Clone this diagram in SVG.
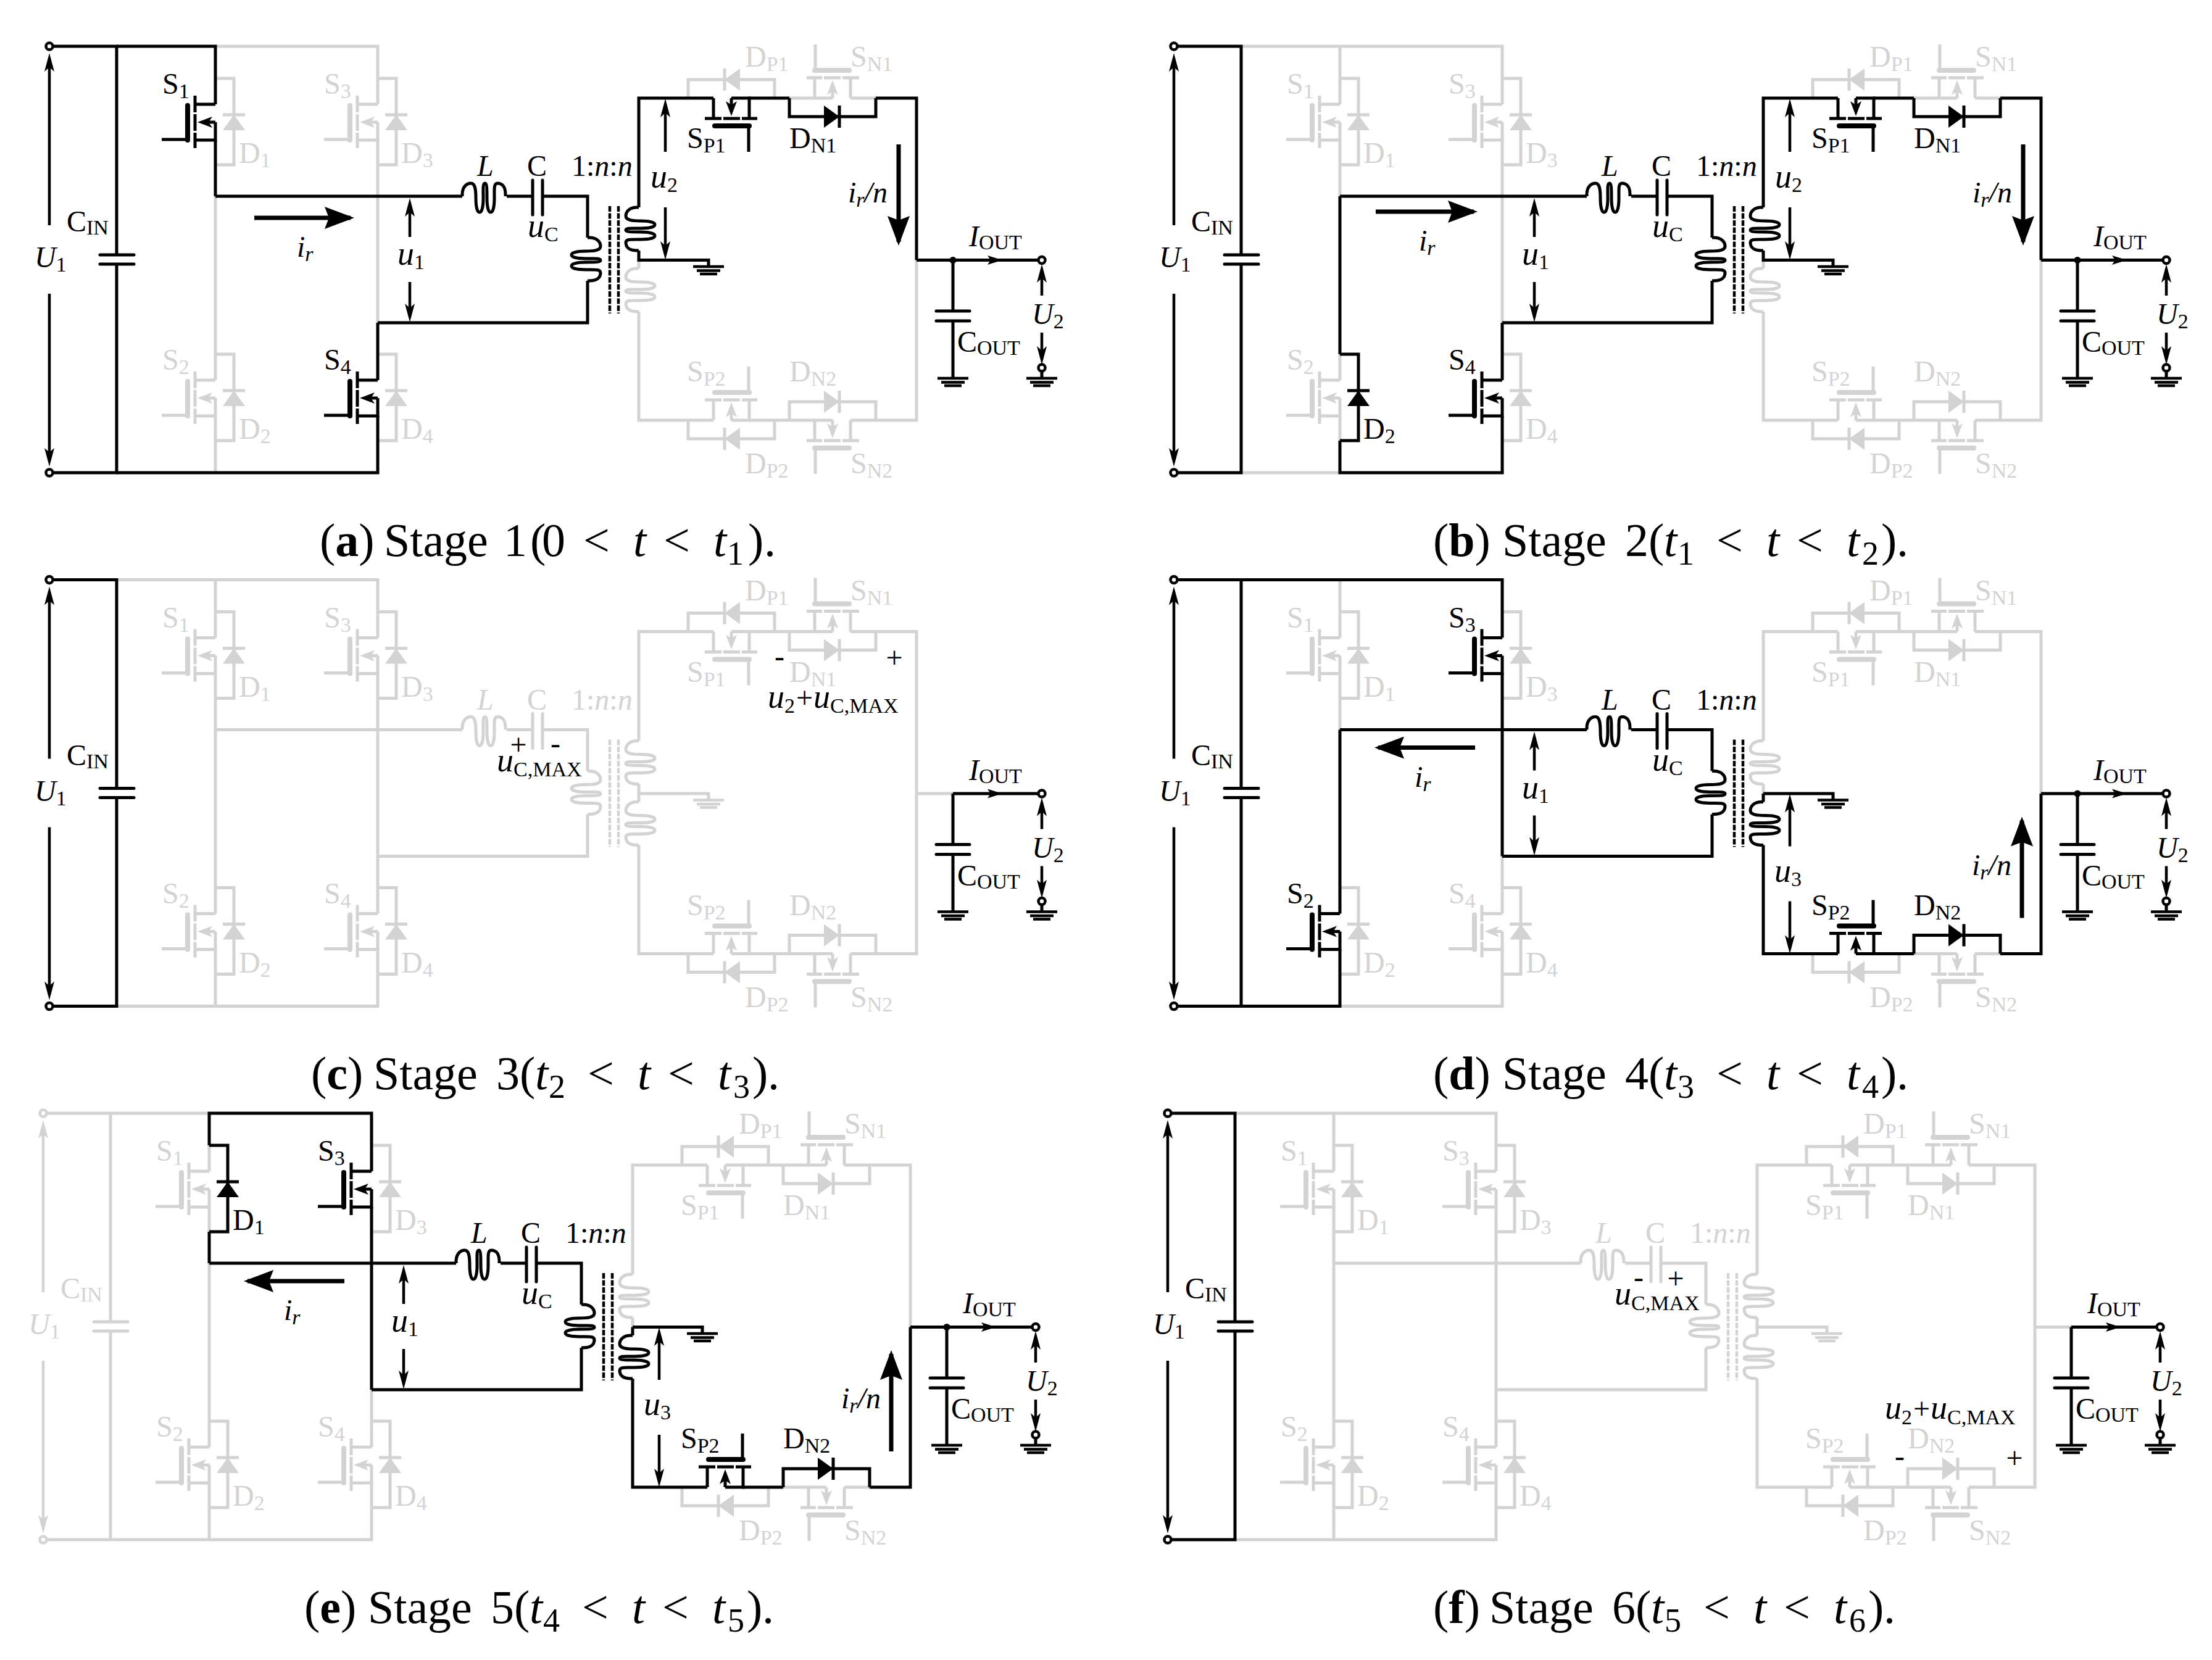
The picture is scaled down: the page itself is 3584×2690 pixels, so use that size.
<svg xmlns="http://www.w3.org/2000/svg" width="3584" height="2690" viewBox="0 0 3584 2690">
<style>
.k{color:#000}.g{color:#d3d3d3}
.w{fill:none;stroke:currentColor;stroke-width:5}
.r{stroke-linecap:round}
.f{fill:currentColor;stroke:none}
.o{fill:#fff;stroke:currentColor;stroke-width:4.5}
.t{font-family:"Liberation Serif",serif;font-size:48px;fill:currentColor}
.i{font-style:italic}
.u{font-style:italic;font-size:54px}
.s{font-size:34px}
.c{font-family:"Liberation Serif",serif;font-size:76px;fill:#000}
.b{font-weight:bold}
.ss{font-size:54px}
.v{fill:none;stroke:#000;stroke-width:4.5;marker-end:url(#vk)}
.vg{fill:none;stroke:#d3d3d3;stroke-width:4.5;marker-end:url(#vg)}
.big{fill:none;stroke:#000;stroke-width:7;marker-end:url(#bk)}
</style>
<defs>
<marker id="vk" markerUnits="userSpaceOnUse" markerWidth="32" markerHeight="18" refX="20" refY="9" orient="auto"><path d="M30 9L0 1L7 9L0 17Z" fill="#000"/></marker>
<marker id="vg" markerUnits="userSpaceOnUse" markerWidth="32" markerHeight="18" refX="20" refY="9" orient="auto"><path d="M30 9L0 1L7 9L0 17Z" fill="#d3d3d3"/></marker>
<marker id="bk" markerUnits="userSpaceOnUse" markerWidth="50" markerHeight="36" refX="42" refY="18" orient="auto"><path d="M48 18L0 0L7 18L0 36Z" fill="#000"/></marker>
<g id="mos"><path class="w" d="M0 0H-33M-33 -14V13M-33 16V43M-33 46V71M0 29V58H-33M-87 57H-45M0 29H-14"/><path class="w r" style="stroke-width:8" d="M-45 2V58"/><path class="f" d="M-29 29L-5 20L-11 29L-5 38Z"/></g>
<g id="dio"><path class="w" d="M0 -42H30V98H0M12 17H48"/><path class="f" d="M30 17L12 42H48Z"/></g>
<path id="coil" class="w" d="M0 0H-3C-15 0 -21 7 -21 14C-21 21 -10 22 3 22C16 22 26 24 26 28C26 32 16 34 3 34C-12 34 -21 33 -21 37C-21 40 -10 40 3 40C16 40 26 42 26 46C26 50 16 52 3 52C-12 52 -21 51 -21 57C-21 65 -15 70 -3 70H0"/>
<g id="gnd"><path class="w" style="stroke-width:4.5" d="M-25 0H25M-19 6.500H19M-14 12H14"/></g>
<g id="sp1" transform="translate(1156,159) rotate(-90)"><use href="#mos"/></g>
<g id="sn1" transform="translate(1378,159) rotate(90)"><use href="#mos"/></g>
<g id="sp2" transform="matrix(0 1 1 0 1156 681)"><use href="#mos"/></g>
<g id="sn2" transform="matrix(0 -1 -1 0 1378 681)"><use href="#mos"/></g>
<g id="dp1" transform="translate(1157,159) rotate(-90)"><use href="#dio"/></g>
<g id="dn1" transform="translate(1377,159) rotate(90)"><use href="#dio"/></g>
<g id="dp2" transform="matrix(0 1 1 0 1157 681)"><use href="#dio"/></g>
<g id="dn2" transform="matrix(0 -1 -1 0 1377 681)"><use href="#dio"/></g>
<g id="prim"><path class="w" d="M349 318H749M821 318H863M879 318H952V385M952 455V523H612"/><path class="w r" d="M863 292V348M879 292V348"/><use href="#coil" transform="matrix(0 1 1 0 749 318)" /><use href="#coil" transform="translate(952,385) scale(-1,1)"/><path class="w" style="stroke-width:4.5;stroke-dasharray:9 2.500" d="M988 334V508M1002 334V508"/></g>
<g id="cin"><path class="w" d="M80 75H189V413M80 766H189V428"/><path class="w r" d="M162 413H217M162 428H217"/><circle class="o" cx="80" cy="75" r="5.500"/><circle class="o" cx="80" cy="766" r="5.500"/></g>
<g id="out"><path class="w" d="M1544 421.500H1682M1544 421.500V504M1544 520V613M1688 602V613"/><path class="w r" d="M1517 504H1571M1517 520H1571"/><use href="#gnd" x="1544" y="613"/><use href="#gnd" x="1688" y="613"/><circle class="o" cx="1688" cy="421.500" r="5.500"/><circle class="o" cx="1688" cy="596" r="5.500"/><path class="f" d="M1624 421.500L1600 414L1605 421.500L1600 429Z"/></g>
<path id="su" class="w" d="M1035 336V159H1156M1213 159H1279M1419 159H1485V421.500M1035 406V421.500H1148V432"/>
<path id="sug" class="w" d="M1279 159H1320M1378 159H1419M1035 421.500V435M1035 505V681H1156M1213 681H1320M1378 681H1485V421.500"/>
<path id="sl" class="w" d="M1035 421.500V435M1035 505V681H1156M1213 681H1279M1419 681H1485V421.500M1035 421.500H1148V432"/>
<path id="slg" class="w" d="M1035 336V159H1156M1213 159H1320M1378 159H1485V421.500M1035 406V421.500M1279 681H1320M1378 681H1419"/>
</defs>

<g id="panel-a">
<g id="a-S2" class="g"><use href="#mos" x="349" y="616"/><text class="t" x="263" y="599">S<tspan class="s" dy="7">2</tspan></text></g>
<g id="a-S3" class="g"><use href="#mos" x="612" y="169"/><text class="t" x="525" y="152">S<tspan class="s" dy="7">3</tspan></text></g>
<g id="a-D1" class="g"><use href="#dio" x="349" y="169"/><text class="t" x="387" y="264">D<tspan class="s" dy="7">1</tspan></text></g>
<g id="a-D2" class="g"><use href="#dio" x="349" y="616"/><text class="t" x="387" y="711">D<tspan class="s" dy="7">2</tspan></text></g>
<g id="a-D3" class="g"><use href="#dio" x="612" y="169"/><text class="t" x="650" y="264">D<tspan class="s" dy="7">3</tspan></text></g>
<g id="a-D4" class="g"><use href="#dio" x="612" y="616"/><text class="t" x="650" y="711">D<tspan class="s" dy="7">4</tspan></text></g>
<g id="a-DP1" class="g"><use href="#dp1"/><text class="t" x="1207" y="108">D<tspan class="s" dy="7">P1</tspan></text></g>
<g id="a-SN1" class="g"><use href="#sn1"/><text class="t" x="1378" y="108">S<tspan class="s" dy="7">N1</tspan></text></g>
<g id="a-SP2" class="g"><use href="#sp2"/><text class="t" x="1113" y="618">S<tspan class="s" dy="7">P2</tspan></text></g>
<g id="a-DN2" class="g"><use href="#dn2"/><text class="t" x="1279" y="618">D<tspan class="s" dy="7">N2</tspan></text></g>
<g id="a-DP2" class="g"><use href="#dp2"/><text class="t" x="1207" y="767">D<tspan class="s" dy="7">P2</tspan></text></g>
<g id="a-SN2" class="g"><use href="#sn2"/><text class="t" x="1378" y="767">S<tspan class="s" dy="7">N2</tspan></text></g>
<g id="a-Tl" class="g"><use href="#coil" x="1035" y="435"/></g>
<g id="a-wires">
<g class="g"><path class="w" d="M349 75H612V169M612 227V523M349 318V616M349 674V766"/><use href="#sug"/></g>
<g class="k"><path class="w" d="M189 75H349V169M349 227V318M612 523V616M612 674V766H189"/><use href="#su"/></g>
</g>
<g id="a-S1" class="k"><use href="#mos" x="349" y="169"/><text class="t" x="263" y="152">S<tspan class="s" dy="7">1</tspan></text></g>
<g id="a-S4" class="k"><use href="#mos" x="612" y="616"/><text class="t" x="525" y="599">S<tspan class="s" dy="7">4</tspan></text></g>
<g id="a-in" class="k"><use href="#cin"/><path class="v" d="M80 365V96"/><path class="v" d="M80 476V746"/><text class="t" x="56" y="433"><tspan class="i">U</tspan><tspan class="s" dy="7">1</tspan></text><text class="t" x="108" y="375">C<tspan class="s" dy="5">IN</tspan></text></g>
<g id="a-prim" class="k"><use href="#prim"/><text class="t i" x="773" y="285">L</text><text class="t" x="854" y="285">C</text><text class="t" x="855" y="384"><tspan class="u">u</tspan><tspan class="s" dy="7">C</tspan></text><text class="t" x="926" y="285">1:<tspan class="i">n</tspan>:<tspan class="i">n</tspan></text></g>
<g id="a-ir" class="k"><path class="big" d="M412 353H568"/><text class="t i" x="481" y="416">i<tspan class="s" dy="7">r</tspan></text></g>
<g id="a-u1" class="k"><path class="v" d="M664 384V331"/><path class="v" d="M664 457V512"/><text class="t" x="644" y="429"><tspan class="u">u</tspan><tspan class="s" dy="7">1</tspan></text></g>
<g id="a-Tu" class="k"><use href="#coil" x="1035" y="336"/><use href="#gnd" x="1148" y="432"/><path class="v" d="M1078 246V170"/><path class="v" d="M1078 336V411"/><text class="t" x="1054" y="304"><tspan class="u">u</tspan><tspan class="s" dy="7">2</tspan></text></g>
<g id="a-SP1" class="k"><use href="#sp1"/><text class="t" x="1113" y="240">S<tspan class="s" dy="7">P1</tspan></text></g>
<g id="a-DN1" class="k"><use href="#dn1"/><text class="t" x="1279" y="240">D<tspan class="s" dy="7">N1</tspan></text></g>
<g id="a-io" class="k"><path class="big" d="M1456 234V392"/><text class="t i" x="1374" y="328">i<tspan class="s" dy="7">r</tspan><tspan dy="-7">/n</tspan></text></g>
<g id="a-out" class="k"><path class="w" d="M1485 421.500H1544"/><circle class="f" cx="1544" cy="421.500" r="5.500"/><use href="#out"/><path class="v" d="M1688 479V438"/><path class="v" d="M1688 539V581"/><text class="t" x="1570" y="399"><tspan class="i">I</tspan><tspan class="s" dy="5">OUT</tspan></text><text class="t" x="1551" y="570">C<tspan class="s" dy="5">OUT</tspan></text><text class="t" x="1672" y="525"><tspan class="i">U</tspan><tspan class="s" dy="7">2</tspan></text></g>
</g>

<g id="panel-b" transform="translate(1822,0)">
<g id="b-S1" class="g"><use href="#mos" x="349" y="169"/><text class="t" x="263" y="152">S<tspan class="s" dy="7">1</tspan></text></g>
<g id="b-S2" class="g"><use href="#mos" x="349" y="616"/><text class="t" x="263" y="599">S<tspan class="s" dy="7">2</tspan></text></g>
<g id="b-S3" class="g"><use href="#mos" x="612" y="169"/><text class="t" x="525" y="152">S<tspan class="s" dy="7">3</tspan></text></g>
<g id="b-D1" class="g"><use href="#dio" x="349" y="169"/><text class="t" x="387" y="264">D<tspan class="s" dy="7">1</tspan></text></g>
<g id="b-D3" class="g"><use href="#dio" x="612" y="169"/><text class="t" x="650" y="264">D<tspan class="s" dy="7">3</tspan></text></g>
<g id="b-D4" class="g"><use href="#dio" x="612" y="616"/><text class="t" x="650" y="711">D<tspan class="s" dy="7">4</tspan></text></g>
<g id="b-DP1" class="g"><use href="#dp1"/><text class="t" x="1207" y="108">D<tspan class="s" dy="7">P1</tspan></text></g>
<g id="b-SN1" class="g"><use href="#sn1"/><text class="t" x="1378" y="108">S<tspan class="s" dy="7">N1</tspan></text></g>
<g id="b-SP2" class="g"><use href="#sp2"/><text class="t" x="1113" y="618">S<tspan class="s" dy="7">P2</tspan></text></g>
<g id="b-DN2" class="g"><use href="#dn2"/><text class="t" x="1279" y="618">D<tspan class="s" dy="7">N2</tspan></text></g>
<g id="b-DP2" class="g"><use href="#dp2"/><text class="t" x="1207" y="767">D<tspan class="s" dy="7">P2</tspan></text></g>
<g id="b-SN2" class="g"><use href="#sn2"/><text class="t" x="1378" y="767">S<tspan class="s" dy="7">N2</tspan></text></g>
<g id="b-Tl" class="g"><use href="#coil" x="1035" y="435"/></g>
<g id="b-wires">
<g class="g"><path class="w" d="M189 75H612V169M349 75V169M349 227V318M612 227V523M189 766H349M349 574V616M349 674V714"/><use href="#sug"/></g>
<g class="k"><path class="w" d="M349 318V574M349 714V766H612V674M612 616V523"/><use href="#su"/></g>
</g>
<g id="b-D2" class="k"><use href="#dio" x="349" y="616"/><text class="t" x="387" y="711">D<tspan class="s" dy="7">2</tspan></text></g>
<g id="b-S4" class="k"><use href="#mos" x="612" y="616"/><text class="t" x="525" y="599">S<tspan class="s" dy="7">4</tspan></text></g>
<g id="b-in" class="k"><use href="#cin"/><path class="v" d="M80 365V96"/><path class="v" d="M80 476V746"/><text class="t" x="56" y="433"><tspan class="i">U</tspan><tspan class="s" dy="7">1</tspan></text><text class="t" x="108" y="375">C<tspan class="s" dy="5">IN</tspan></text></g>
<g id="b-prim" class="k"><use href="#prim"/><text class="t i" x="773" y="285">L</text><text class="t" x="854" y="285">C</text><text class="t" x="855" y="384"><tspan class="u">u</tspan><tspan class="s" dy="7">C</tspan></text><text class="t" x="926" y="285">1:<tspan class="i">n</tspan>:<tspan class="i">n</tspan></text></g>
<g id="b-ir" class="k"><path class="big" d="M407 343H566"/><text class="t i" x="477" y="406">i<tspan class="s" dy="7">r</tspan></text></g>
<g id="b-u1" class="k"><path class="v" d="M664 384V331"/><path class="v" d="M664 457V512"/><text class="t" x="644" y="429"><tspan class="u">u</tspan><tspan class="s" dy="7">1</tspan></text></g>
<g id="b-Tu" class="k"><use href="#coil" x="1035" y="336"/><use href="#gnd" x="1148" y="432"/><path class="v" d="M1078 246V170"/><path class="v" d="M1078 336V411"/><text class="t" x="1054" y="304"><tspan class="u">u</tspan><tspan class="s" dy="7">2</tspan></text></g>
<g id="b-SP1" class="k"><use href="#sp1"/><text class="t" x="1113" y="240">S<tspan class="s" dy="7">P1</tspan></text></g>
<g id="b-DN1" class="k"><use href="#dn1"/><text class="t" x="1279" y="240">D<tspan class="s" dy="7">N1</tspan></text></g>
<g id="b-io" class="k"><path class="big" d="M1456 234V392"/><text class="t i" x="1374" y="328">i<tspan class="s" dy="7">r</tspan><tspan dy="-7">/n</tspan></text></g>
<g id="b-out" class="k"><path class="w" d="M1485 421.500H1544"/><circle class="f" cx="1544" cy="421.500" r="5.500"/><use href="#out"/><path class="v" d="M1688 479V438"/><path class="v" d="M1688 539V581"/><text class="t" x="1570" y="399"><tspan class="i">I</tspan><tspan class="s" dy="5">OUT</tspan></text><text class="t" x="1551" y="570">C<tspan class="s" dy="5">OUT</tspan></text><text class="t" x="1672" y="525"><tspan class="i">U</tspan><tspan class="s" dy="7">2</tspan></text></g>
</g>

<g id="panel-c" transform="translate(0,864.500)">
<g id="c-S1" class="g"><use href="#mos" x="349" y="169"/><text class="t" x="263" y="152">S<tspan class="s" dy="7">1</tspan></text></g>
<g id="c-S2" class="g"><use href="#mos" x="349" y="616"/><text class="t" x="263" y="599">S<tspan class="s" dy="7">2</tspan></text></g>
<g id="c-S3" class="g"><use href="#mos" x="612" y="169"/><text class="t" x="525" y="152">S<tspan class="s" dy="7">3</tspan></text></g>
<g id="c-S4" class="g"><use href="#mos" x="612" y="616"/><text class="t" x="525" y="599">S<tspan class="s" dy="7">4</tspan></text></g>
<g id="c-D1" class="g"><use href="#dio" x="349" y="169"/><text class="t" x="387" y="264">D<tspan class="s" dy="7">1</tspan></text></g>
<g id="c-D2" class="g"><use href="#dio" x="349" y="616"/><text class="t" x="387" y="711">D<tspan class="s" dy="7">2</tspan></text></g>
<g id="c-D3" class="g"><use href="#dio" x="612" y="169"/><text class="t" x="650" y="264">D<tspan class="s" dy="7">3</tspan></text></g>
<g id="c-D4" class="g"><use href="#dio" x="612" y="616"/><text class="t" x="650" y="711">D<tspan class="s" dy="7">4</tspan></text></g>
<g id="c-SP1" class="g"><use href="#sp1"/><text class="t" x="1113" y="240">S<tspan class="s" dy="7">P1</tspan></text></g>
<g id="c-DN1" class="g"><use href="#dn1"/><text class="t" x="1279" y="240">D<tspan class="s" dy="7">N1</tspan></text></g>
<g id="c-DP1" class="g"><use href="#dp1"/><text class="t" x="1207" y="108">D<tspan class="s" dy="7">P1</tspan></text></g>
<g id="c-SN1" class="g"><use href="#sn1"/><text class="t" x="1378" y="108">S<tspan class="s" dy="7">N1</tspan></text></g>
<g id="c-SP2" class="g"><use href="#sp2"/><text class="t" x="1113" y="618">S<tspan class="s" dy="7">P2</tspan></text></g>
<g id="c-DN2" class="g"><use href="#dn2"/><text class="t" x="1279" y="618">D<tspan class="s" dy="7">N2</tspan></text></g>
<g id="c-DP2" class="g"><use href="#dp2"/><text class="t" x="1207" y="767">D<tspan class="s" dy="7">P2</tspan></text></g>
<g id="c-SN2" class="g"><use href="#sn2"/><text class="t" x="1378" y="767">S<tspan class="s" dy="7">N2</tspan></text></g>
<g id="c-T" class="g"><use href="#coil" x="1035" y="336"/><use href="#coil" x="1035" y="435"/><use href="#gnd" x="1148" y="432"/></g>
<g id="c-prim" class="g"><use href="#prim"/><text class="t i" x="773" y="285">L</text><text class="t" x="854" y="285">C</text><text class="t" x="926" y="285">1:<tspan class="i">n</tspan>:<tspan class="i">n</tspan></text></g>
<g id="c-wires"><g class="g"><path class="w" d="M189 75H612V169M349 75V169M349 227V616M349 674V766M612 227V616M612 674V766H189M1485 421.500H1544"/><use href="#su"/><use href="#sug"/></g></g>
<g id="c-in" class="k"><use href="#cin"/><path class="v" d="M80 365V96"/><path class="v" d="M80 476V746"/><text class="t" x="56" y="433"><tspan class="i">U</tspan><tspan class="s" dy="7">1</tspan></text><text class="t" x="108" y="375">C<tspan class="s" dy="5">IN</tspan></text></g>
<g id="c-ucmax" class="k"><text class="t" x="840" y="358" text-anchor="middle">+</text><text class="t" x="900" y="356" text-anchor="middle">-</text><text class="t" x="805" y="385"><tspan class="u">u</tspan><tspan class="s" x="832" y="393">C,MAX</tspan></text></g>
<g id="c-u2max" class="k"><text class="t" x="1263" y="215" text-anchor="middle">-</text><text class="t" x="1449" y="217" text-anchor="middle">+</text><text class="t" x="1244" y="282"><tspan class="u">u</tspan><tspan class="s" x="1271" y="290">2</tspan><tspan x="1290" y="282">+</tspan><tspan class="u" x="1318">u</tspan><tspan class="s" x="1345" y="290">C,MAX</tspan></text></g>
<g id="c-out" class="k"><use href="#out"/><path class="v" d="M1688 479V438"/><path class="v" d="M1688 539V581"/><text class="t" x="1570" y="399"><tspan class="i">I</tspan><tspan class="s" dy="5">OUT</tspan></text><text class="t" x="1551" y="570">C<tspan class="s" dy="5">OUT</tspan></text><text class="t" x="1672" y="525"><tspan class="i">U</tspan><tspan class="s" dy="7">2</tspan></text></g>
</g>

<g id="panel-d" transform="translate(1822,864.500)">
<g id="d-S1" class="g"><use href="#mos" x="349" y="169"/><text class="t" x="263" y="152">S<tspan class="s" dy="7">1</tspan></text></g>
<g id="d-S4" class="g"><use href="#mos" x="612" y="616"/><text class="t" x="525" y="599">S<tspan class="s" dy="7">4</tspan></text></g>
<g id="d-D1" class="g"><use href="#dio" x="349" y="169"/><text class="t" x="387" y="264">D<tspan class="s" dy="7">1</tspan></text></g>
<g id="d-D2" class="g"><use href="#dio" x="349" y="616"/><text class="t" x="387" y="711">D<tspan class="s" dy="7">2</tspan></text></g>
<g id="d-D3" class="g"><use href="#dio" x="612" y="169"/><text class="t" x="650" y="264">D<tspan class="s" dy="7">3</tspan></text></g>
<g id="d-D4" class="g"><use href="#dio" x="612" y="616"/><text class="t" x="650" y="711">D<tspan class="s" dy="7">4</tspan></text></g>
<g id="d-SP1" class="g"><use href="#sp1"/><text class="t" x="1113" y="240">S<tspan class="s" dy="7">P1</tspan></text></g>
<g id="d-DN1" class="g"><use href="#dn1"/><text class="t" x="1279" y="240">D<tspan class="s" dy="7">N1</tspan></text></g>
<g id="d-DP1" class="g"><use href="#dp1"/><text class="t" x="1207" y="108">D<tspan class="s" dy="7">P1</tspan></text></g>
<g id="d-SN1" class="g"><use href="#sn1"/><text class="t" x="1378" y="108">S<tspan class="s" dy="7">N1</tspan></text></g>
<g id="d-DP2" class="g"><use href="#dp2"/><text class="t" x="1207" y="767">D<tspan class="s" dy="7">P2</tspan></text></g>
<g id="d-SN2" class="g"><use href="#sn2"/><text class="t" x="1378" y="767">S<tspan class="s" dy="7">N2</tspan></text></g>
<g id="d-Tu" class="g"><use href="#coil" x="1035" y="336"/></g>
<g id="d-wires">
<g class="g"><path class="w" d="M349 75V169M349 227V318M349 766H612V674M612 616V523"/><use href="#slg"/></g>
<g class="k"><path class="w" d="M189 75H612V169M612 227V523M349 318V616M349 674V766H189"/><use href="#sl"/></g>
</g>
<g id="d-S3" class="k"><use href="#mos" x="612" y="169"/><text class="t" x="525" y="152">S<tspan class="s" dy="7">3</tspan></text></g>
<g id="d-S2" class="k"><use href="#mos" x="349" y="616"/><text class="t" x="263" y="599">S<tspan class="s" dy="7">2</tspan></text></g>
<g id="d-in" class="k"><use href="#cin"/><path class="v" d="M80 365V96"/><path class="v" d="M80 476V746"/><text class="t" x="56" y="433"><tspan class="i">U</tspan><tspan class="s" dy="7">1</tspan></text><text class="t" x="108" y="375">C<tspan class="s" dy="5">IN</tspan></text></g>
<g id="d-prim" class="k"><use href="#prim"/><text class="t i" x="773" y="285">L</text><text class="t" x="854" y="285">C</text><text class="t" x="855" y="384"><tspan class="u">u</tspan><tspan class="s" dy="7">C</tspan></text><text class="t" x="926" y="285">1:<tspan class="i">n</tspan>:<tspan class="i">n</tspan></text></g>
<g id="d-ir" class="k"><path class="big" d="M568 347H411"/><text class="t i" x="470" y="410">i<tspan class="s" dy="7">r</tspan></text></g>
<g id="d-u1" class="k"><path class="v" d="M664 384V331"/><path class="v" d="M664 457V512"/><text class="t" x="644" y="429"><tspan class="u">u</tspan><tspan class="s" dy="7">1</tspan></text></g>
<g id="d-Tl" class="k"><use href="#coil" x="1035" y="435"/><use href="#gnd" x="1148" y="432"/><path class="v" d="M1078 507V432"/><path class="v" d="M1078 596V671"/><text class="t" x="1053" y="564"><tspan class="u">u</tspan><tspan class="s" dy="7">3</tspan></text></g>
<g id="d-SP2" class="k"><use href="#sp2"/><text class="t" x="1113" y="618">S<tspan class="s" dy="7">P2</tspan></text></g>
<g id="d-DN2" class="k"><use href="#dn2"/><text class="t" x="1279" y="618">D<tspan class="s" dy="7">N2</tspan></text></g>
<g id="d-io" class="k"><path class="big" d="M1454 623V465"/><text class="t i" x="1373" y="553">i<tspan class="s" dy="7">r</tspan><tspan dy="-7">/n</tspan></text></g>
<g id="d-out" class="k"><path class="w" d="M1485 421.500H1544"/><circle class="f" cx="1544" cy="421.500" r="5.500"/><use href="#out"/><path class="v" d="M1688 479V438"/><path class="v" d="M1688 539V581"/><text class="t" x="1570" y="399"><tspan class="i">I</tspan><tspan class="s" dy="5">OUT</tspan></text><text class="t" x="1551" y="570">C<tspan class="s" dy="5">OUT</tspan></text><text class="t" x="1672" y="525"><tspan class="i">U</tspan><tspan class="s" dy="7">2</tspan></text></g>
</g>

<g id="panel-e" transform="translate(-10,1729)">
<g id="e-in" class="g"><use href="#cin"/><path class="vg" d="M80 365V96"/><path class="vg" d="M80 476V746"/><text class="t" x="56" y="433"><tspan class="i">U</tspan><tspan class="s" dy="7">1</tspan></text><text class="t" x="108" y="375">C<tspan class="s" dy="5">IN</tspan></text></g>
<g id="e-S1" class="g"><use href="#mos" x="349" y="169"/><text class="t" x="263" y="152">S<tspan class="s" dy="7">1</tspan></text></g>
<g id="e-S2" class="g"><use href="#mos" x="349" y="616"/><text class="t" x="263" y="599">S<tspan class="s" dy="7">2</tspan></text></g>
<g id="e-S4" class="g"><use href="#mos" x="612" y="616"/><text class="t" x="525" y="599">S<tspan class="s" dy="7">4</tspan></text></g>
<g id="e-D2" class="g"><use href="#dio" x="349" y="616"/><text class="t" x="387" y="711">D<tspan class="s" dy="7">2</tspan></text></g>
<g id="e-D3" class="g"><use href="#dio" x="612" y="169"/><text class="t" x="650" y="264">D<tspan class="s" dy="7">3</tspan></text></g>
<g id="e-D4" class="g"><use href="#dio" x="612" y="616"/><text class="t" x="650" y="711">D<tspan class="s" dy="7">4</tspan></text></g>
<g id="e-SP1" class="g"><use href="#sp1"/><text class="t" x="1113" y="240">S<tspan class="s" dy="7">P1</tspan></text></g>
<g id="e-DN1" class="g"><use href="#dn1"/><text class="t" x="1279" y="240">D<tspan class="s" dy="7">N1</tspan></text></g>
<g id="e-DP1" class="g"><use href="#dp1"/><text class="t" x="1207" y="108">D<tspan class="s" dy="7">P1</tspan></text></g>
<g id="e-SN1" class="g"><use href="#sn1"/><text class="t" x="1378" y="108">S<tspan class="s" dy="7">N1</tspan></text></g>
<g id="e-DP2" class="g"><use href="#dp2"/><text class="t" x="1207" y="767">D<tspan class="s" dy="7">P2</tspan></text></g>
<g id="e-SN2" class="g"><use href="#sn2"/><text class="t" x="1378" y="767">S<tspan class="s" dy="7">N2</tspan></text></g>
<g id="e-Tu" class="g"><use href="#coil" x="1035" y="336"/></g>
<g id="e-wires">
<g class="g"><path class="w" d="M189 75H349M349 127V169M349 227V267M349 318V616M349 674V766M189 766H612V674M612 616V523"/><use href="#slg"/></g>
<g class="k"><path class="w" d="M349 127V75H612V169M612 227V523M349 267V318"/><use href="#sl"/></g>
</g>
<g id="e-D1" class="k"><use href="#dio" x="349" y="169"/><text class="t" x="387" y="264">D<tspan class="s" dy="7">1</tspan></text></g>
<g id="e-S3" class="k"><use href="#mos" x="612" y="169"/><text class="t" x="525" y="152">S<tspan class="s" dy="7">3</tspan></text></g>
<g id="e-prim" class="k"><use href="#prim"/><text class="t i" x="773" y="285">L</text><text class="t" x="854" y="285">C</text><text class="t" x="855" y="384"><tspan class="u">u</tspan><tspan class="s" dy="7">C</tspan></text><text class="t" x="926" y="285">1:<tspan class="i">n</tspan>:<tspan class="i">n</tspan></text></g>
<g id="e-ir" class="k"><path class="big" d="M568 347H411"/><text class="t i" x="470" y="410">i<tspan class="s" dy="7">r</tspan></text></g>
<g id="e-u1" class="k"><path class="v" d="M664 384V331"/><path class="v" d="M664 457V512"/><text class="t" x="644" y="429"><tspan class="u">u</tspan><tspan class="s" dy="7">1</tspan></text></g>
<g id="e-Tl" class="k"><use href="#coil" x="1035" y="435"/><use href="#gnd" x="1148" y="432"/><path class="v" d="M1078 507V432"/><path class="v" d="M1078 596V671"/><text class="t" x="1053" y="564"><tspan class="u">u</tspan><tspan class="s" dy="7">3</tspan></text></g>
<g id="e-SP2" class="k"><use href="#sp2"/><text class="t" x="1113" y="618">S<tspan class="s" dy="7">P2</tspan></text></g>
<g id="e-DN2" class="k"><use href="#dn2"/><text class="t" x="1279" y="618">D<tspan class="s" dy="7">N2</tspan></text></g>
<g id="e-io" class="k"><path class="big" d="M1454 623V465"/><text class="t i" x="1373" y="553">i<tspan class="s" dy="7">r</tspan><tspan dy="-7">/n</tspan></text></g>
<g id="e-out" class="k"><path class="w" d="M1485 421.500H1544"/><circle class="f" cx="1544" cy="421.500" r="5.500"/><use href="#out"/><path class="v" d="M1688 479V438"/><path class="v" d="M1688 539V581"/><text class="t" x="1570" y="399"><tspan class="i">I</tspan><tspan class="s" dy="5">OUT</tspan></text><text class="t" x="1551" y="570">C<tspan class="s" dy="5">OUT</tspan></text><text class="t" x="1672" y="525"><tspan class="i">U</tspan><tspan class="s" dy="7">2</tspan></text></g>
</g>

<g id="panel-f" transform="translate(1812,1729)">
<g id="f-S1" class="g"><use href="#mos" x="349" y="169"/><text class="t" x="263" y="152">S<tspan class="s" dy="7">1</tspan></text></g>
<g id="f-S2" class="g"><use href="#mos" x="349" y="616"/><text class="t" x="263" y="599">S<tspan class="s" dy="7">2</tspan></text></g>
<g id="f-S3" class="g"><use href="#mos" x="612" y="169"/><text class="t" x="525" y="152">S<tspan class="s" dy="7">3</tspan></text></g>
<g id="f-S4" class="g"><use href="#mos" x="612" y="616"/><text class="t" x="525" y="599">S<tspan class="s" dy="7">4</tspan></text></g>
<g id="f-D1" class="g"><use href="#dio" x="349" y="169"/><text class="t" x="387" y="264">D<tspan class="s" dy="7">1</tspan></text></g>
<g id="f-D2" class="g"><use href="#dio" x="349" y="616"/><text class="t" x="387" y="711">D<tspan class="s" dy="7">2</tspan></text></g>
<g id="f-D3" class="g"><use href="#dio" x="612" y="169"/><text class="t" x="650" y="264">D<tspan class="s" dy="7">3</tspan></text></g>
<g id="f-D4" class="g"><use href="#dio" x="612" y="616"/><text class="t" x="650" y="711">D<tspan class="s" dy="7">4</tspan></text></g>
<g id="f-SP1" class="g"><use href="#sp1"/><text class="t" x="1113" y="240">S<tspan class="s" dy="7">P1</tspan></text></g>
<g id="f-DN1" class="g"><use href="#dn1"/><text class="t" x="1279" y="240">D<tspan class="s" dy="7">N1</tspan></text></g>
<g id="f-DP1" class="g"><use href="#dp1"/><text class="t" x="1207" y="108">D<tspan class="s" dy="7">P1</tspan></text></g>
<g id="f-SN1" class="g"><use href="#sn1"/><text class="t" x="1378" y="108">S<tspan class="s" dy="7">N1</tspan></text></g>
<g id="f-SP2" class="g"><use href="#sp2"/><text class="t" x="1113" y="618">S<tspan class="s" dy="7">P2</tspan></text></g>
<g id="f-DN2" class="g"><use href="#dn2"/><text class="t" x="1279" y="618">D<tspan class="s" dy="7">N2</tspan></text></g>
<g id="f-DP2" class="g"><use href="#dp2"/><text class="t" x="1207" y="767">D<tspan class="s" dy="7">P2</tspan></text></g>
<g id="f-SN2" class="g"><use href="#sn2"/><text class="t" x="1378" y="767">S<tspan class="s" dy="7">N2</tspan></text></g>
<g id="f-T" class="g"><use href="#coil" x="1035" y="336"/><use href="#coil" x="1035" y="435"/><use href="#gnd" x="1148" y="432"/></g>
<g id="f-prim" class="g"><use href="#prim"/><text class="t i" x="773" y="285">L</text><text class="t" x="854" y="285">C</text><text class="t" x="926" y="285">1:<tspan class="i">n</tspan>:<tspan class="i">n</tspan></text></g>
<g id="f-wires"><g class="g"><path class="w" d="M189 75H612V169M349 75V169M349 227V616M349 674V766M612 227V616M612 674V766H189M1485 421.500H1544"/><use href="#su"/><use href="#sug"/></g></g>
<g id="f-in" class="k"><use href="#cin"/><path class="v" d="M80 365V96"/><path class="v" d="M80 476V746"/><text class="t" x="56" y="433"><tspan class="i">U</tspan><tspan class="s" dy="7">1</tspan></text><text class="t" x="108" y="375">C<tspan class="s" dy="5">IN</tspan></text></g>
<g id="f-ucmax" class="k"><text class="t" x="843" y="357" text-anchor="middle">-</text><text class="t" x="903" y="359" text-anchor="middle">+</text><text class="t" x="804" y="385"><tspan class="u">u</tspan><tspan class="s" x="831" y="394">C,MAX</tspan></text></g>
<g id="f-u2max" class="k"><text class="t" x="1266" y="647" text-anchor="middle">-</text><text class="t" x="1452" y="650" text-anchor="middle">+</text><text class="t" x="1242" y="570"><tspan class="u">u</tspan><tspan class="s" x="1269" y="579">2</tspan><tspan x="1288" y="570">+</tspan><tspan class="u" x="1316">u</tspan><tspan class="s" x="1343" y="579">C,MAX</tspan></text></g>
<g id="f-out" class="k"><use href="#out"/><path class="v" d="M1688 479V438"/><path class="v" d="M1688 539V581"/><text class="t" x="1570" y="399"><tspan class="i">I</tspan><tspan class="s" dy="5">OUT</tspan></text><text class="t" x="1551" y="570">C<tspan class="s" dy="5">OUT</tspan></text><text class="t" x="1672" y="525"><tspan class="i">U</tspan><tspan class="s" dy="7">2</tspan></text></g>
</g>

<g id="captions">
<text class="c" y="901"><tspan x="518">(</tspan><tspan class="b">a</tspan>)<tspan x="622">Stage</tspan><tspan x="816">1</tspan><tspan x="859">(</tspan><tspan x="878">0</tspan><tspan x="945">&lt;</tspan><tspan class="i" x="1026">t</tspan><tspan x="1075">&lt;</tspan><tspan class="i" x="1156">t</tspan><tspan class="ss" x="1178" y="915">1</tspan><tspan x="1212" y="901">)</tspan><tspan x="1238">.</tspan></text>
<text class="c" y="901"><tspan x="2322">(</tspan><tspan class="b">b</tspan>)<tspan x="2434">Stage</tspan><tspan x="2633">2</tspan><tspan x="2671">(</tspan><tspan class="i" x="2696">t</tspan><tspan class="ss" x="2718" y="915">1</tspan><tspan x="2781" y="901">&lt;</tspan><tspan class="i" x="2862">t</tspan><tspan x="2911">&lt;</tspan><tspan class="i" x="2992">t</tspan><tspan class="ss" x="3017" y="915">2</tspan><tspan x="3048" y="901">)</tspan><tspan x="3073">.</tspan></text>
<text class="c" y="1765"><tspan x="504">(</tspan><tspan class="b">c</tspan>)<tspan x="605">Stage</tspan><tspan x="804">3</tspan><tspan x="842">(</tspan><tspan class="i" x="867">t</tspan><tspan class="ss" x="889" y="1779">2</tspan><tspan x="952" y="1765">&lt;</tspan><tspan class="i" x="1033">t</tspan><tspan x="1082">&lt;</tspan><tspan class="i" x="1163">t</tspan><tspan class="ss" x="1188" y="1779">3</tspan><tspan x="1219" y="1765">)</tspan><tspan x="1244">.</tspan></text>
<text class="c" y="1765"><tspan x="2322">(</tspan><tspan class="b">d</tspan>)<tspan x="2434">Stage</tspan><tspan x="2633">4</tspan><tspan x="2671">(</tspan><tspan class="i" x="2696">t</tspan><tspan class="ss" x="2718" y="1779">3</tspan><tspan x="2781" y="1765">&lt;</tspan><tspan class="i" x="2862">t</tspan><tspan x="2911">&lt;</tspan><tspan class="i" x="2992">t</tspan><tspan class="ss" x="3017" y="1779">4</tspan><tspan x="3048" y="1765">)</tspan><tspan x="3073">.</tspan></text>
<text class="c" y="2630"><tspan x="493">(</tspan><tspan class="b">e</tspan>)<tspan x="596">Stage</tspan><tspan x="795">5</tspan><tspan x="833">(</tspan><tspan class="i" x="858">t</tspan><tspan class="ss" x="880" y="2644">4</tspan><tspan x="943" y="2630">&lt;</tspan><tspan class="i" x="1024">t</tspan><tspan x="1073">&lt;</tspan><tspan class="i" x="1154">t</tspan><tspan class="ss" x="1179" y="2644">5</tspan><tspan x="1210" y="2630">)</tspan><tspan x="1235">.</tspan></text>
<text class="c" y="2630"><tspan x="2322">(</tspan><tspan class="b">f</tspan>)<tspan x="2413">Stage</tspan><tspan x="2612">6</tspan><tspan x="2650">(</tspan><tspan class="i" x="2675">t</tspan><tspan class="ss" x="2697" y="2644">5</tspan><tspan x="2760" y="2630">&lt;</tspan><tspan class="i" x="2841">t</tspan><tspan x="2890">&lt;</tspan><tspan class="i" x="2971">t</tspan><tspan class="ss" x="2996" y="2644">6</tspan><tspan x="3027" y="2630">)</tspan><tspan x="3052">.</tspan></text>
</g>
</svg>
